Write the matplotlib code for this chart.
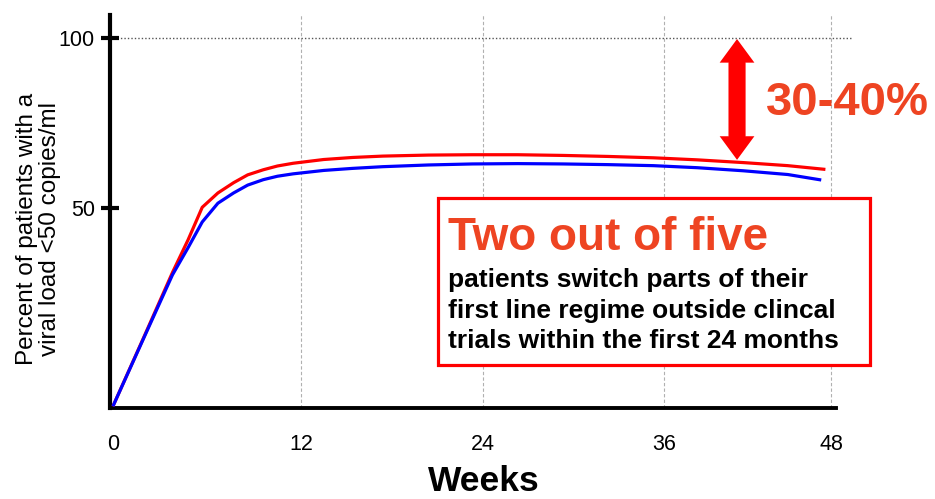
import matplotlib
matplotlib.use("Agg")
import numpy as np
import matplotlib.pyplot as plt
from matplotlib.patches import Rectangle

plt.rcParams['font.family'] = ['Liberation Sans', 'DejaVu Sans']

# Weeks on treatment and share of patients below 50 copies/ml
weeks = [0, 1.9, 3.8, 4.8, 5.7, 6.7, 7.7, 8.6, 9.6, 10.5, 11.5, 13.5, 15.4,
         17.4, 20.4, 23.3, 26.3, 29.3, 32.3, 35.3, 38.4, 41.7, 44.9]
pct_red = [-8, 11.5, 31.2, 40.8, 50.3, 54.5, 57.5, 59.8, 61.3, 62.4, 63.2,
           64.3, 64.9, 65.3, 65.6, 65.7, 65.7, 65.5, 65.2, 64.8, 64.2, 63.4,
           62.5]
pct_blue = [-8, 11.3, 30.5, 38.5, 46, 51.5, 54.5, 56.8, 58.4, 59.4, 60.1,
            61.1, 61.7, 62.2, 62.7, 63, 63.1, 63, 62.8, 62.5, 61.9, 61, 59.9]
# last observations
week_end_red, pct_end_red = 47.6, 61.4
week_end_blue, pct_end_blue = 47.3, 58.3

x_ticks = [0, 12, 24, 36, 48]
# relative spacing of the week ticks on the drawn time axis
tick_spacing = [0, 188, 370, 551, 718]
y_ticks = [50, 100]

gap_low, gap_high = 64.2, 99.6   # arrow span between response and 100 %
gap_week = 41.25
gap_label = "30-40%"

box_title = "Two out of five"
box_lines = ["patients switch parts of their",
             "first line regime outside clincal",
             "trials within the first 24 months"]

ACCENT = "#EE4422"

# piecewise-linear time axis through the tick spacing
slope_lo = (tick_spacing[1] - tick_spacing[0]) / (x_ticks[1] - x_ticks[0])
slope_hi = (tick_spacing[-1] - tick_spacing[-2]) / (x_ticks[-1] - x_ticks[-2])
w_ext = np.array([x_ticks[0] - 50] + x_ticks + [x_ticks[-1] + 50], float)
p_ext = np.array([tick_spacing[0] - 50 * slope_lo] + tick_spacing +
                 [tick_spacing[-1] + 50 * slope_hi], float)


def week_fwd(w):
    return np.interp(w, w_ext, p_ext)


def week_inv(p):
    return np.interp(p, p_ext, w_ext)


fig = plt.figure(figsize=(9.35, 4.99), dpi=100)
ax = fig.add_axes([0.1176, 0.1824, 0.7765, 0.7876])
ax.set_xscale("function", functions=(week_fwd, week_inv))

ax.set_xlim(-0.19, 48.36)
ax.set_ylim(-8.5, 106.65)

# grid
for w in x_ticks[1:]:
    ax.axvline(w, color="#b0b0b0", lw=0.8, ls=(0, (3, 2)), zorder=1)
ax.axhline(100, xmin=0, xmax=1.02, color="#555555", lw=1.0,
           ls=(0, (1, 1.5)), zorder=1, clip_on=False)

ax.plot(weeks + [week_end_red], pct_red + [pct_end_red], color="#FF0000",
        lw=2.3, zorder=3, solid_capstyle="butt", solid_joinstyle="round")
ax.plot(weeks + [week_end_blue], pct_blue + [pct_end_blue], color="#0000FF",
        lw=2.3, zorder=4, solid_capstyle="butt", solid_joinstyle="round")

for s in ("top", "right"):
    ax.spines[s].set_visible(False)
ax.spines["left"].set_linewidth(3)
ax.spines["bottom"].set_linewidth(2.8)

ax.set_xticks(x_ticks)
ax.set_xticklabels([str(t) for t in x_ticks])
ax.xaxis.set_minor_locator(matplotlib.ticker.NullLocator())
ax.set_yticks(y_ticks)
ax.set_yticklabels([str(t) for t in y_ticks])
ax.tick_params(axis="x", length=0, pad=19, labelsize=15.5)
ax.tick_params(axis="y", direction="inout", length=13, width=3, pad=4.3,
               labelsize=15.5)

# double-headed gap arrow: two overlapping single arrows, each tail ending
# at the base of the opposite head
head_len_pt = 17
head_len = head_len_pt / 72 * fig.dpi / (ax.get_position().height * fig.bbox.height) \
    * (ax.get_ylim()[1] - ax.get_ylim()[0])
arrow_style = f"simple,head_length={head_len_pt},head_width=25,tail_width=12"
for end, start in ((gap_high, gap_low + head_len), (gap_low, gap_high - head_len)):
    ax.annotate("", xy=(gap_week, end), xytext=(gap_week, start),
                arrowprops=dict(arrowstyle=arrow_style, mutation_scale=1,
                                color="#FF0000", lw=0, shrinkA=0, shrinkB=0),
                zorder=5)
fig.text(0.819, 0.7695, gap_label, color=ACCENT, fontsize=34,
         fontweight="bold", ha="left", va="baseline")

# text box
fig.add_artist(Rectangle((0.4684, 0.2685), 0.4621, 0.3347,
                         transform=fig.transFigure, facecolor="white",
                         edgecolor="#FF0000", lw=2.3, zorder=2))
fig.text(0.4791, 0.499, box_title, color=ACCENT, fontsize=33,
         fontweight="bold", ha="left", va="baseline", zorder=3)
for line, yb in zip(box_lines, [0.4248, 0.3627, 0.3026]):
    fig.text(0.4791, yb, line, color="black", fontsize=19,
             fontweight="bold", ha="left", va="baseline", zorder=3)

fig.text(0.041, 0.541, "Percent of patients with a\nviral load <50 copies/ml",
         rotation=90, ha="center", va="center", fontsize=17.5, linespacing=1.05)
fig.text(0.517, 0.036, "Weeks", ha="center", va="center", fontsize=25.5,
         fontweight="bold")

fig.savefig("out.png", dpi=100)
